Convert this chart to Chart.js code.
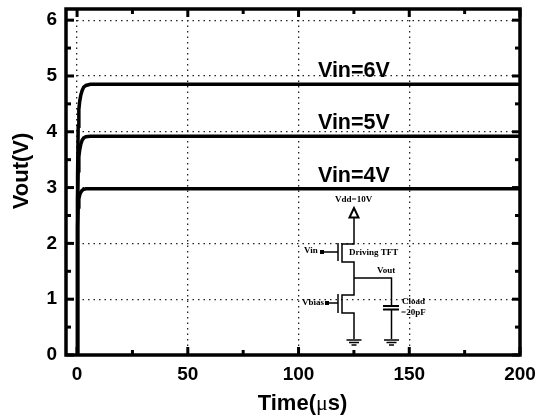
<!DOCTYPE html>
<html>
<head>
<meta charset="utf-8">
<style>
  html, body { margin: 0; padding: 0; background: #fff; }
  canvas { display: block; }
</style>
<script src="https://cdn.jsdelivr.net/npm/chart.js@4"></script>
</head>
<body>
<canvas id="chart" width="537" height="417"></canvas>
<script>
// values
const timeUs = [0, 0.15, 0.3, 0.5, 0.8, 1.2, 1.7, 2.3, 3, 4, 6, 50, 100, 150, 200];
const vin6 = [0, 2.0, 3.2, 4.1, 4.4, 4.55, 4.66, 4.74, 4.8, 4.83, 4.85, 4.85, 4.85, 4.85, 4.85];
const vin5 = [0, 1.7, 2.8, 3.3, 3.55, 3.68, 3.78, 3.85, 3.89, 3.91, 3.92, 3.92, 3.92, 3.92, 3.92];
const vin4 = [0, 1.4, 2.3, 2.65, 2.8, 2.87, 2.92, 2.95, 2.97, 2.98, 2.98, 2.98, 2.98, 2.98, 2.98];

const xTicks = [0, 50, 100, 150, 200];
const yTicks = [0, 1, 2, 3, 4, 5, 6];
const xMinorTicks = [25, 75, 125, 175];
const yMinorTicks = [0.5, 1.5, 2.5, 3.5, 4.5, 5.5];

const seriesLabels = ["Vin=6V", "Vin=5V", "Vin=4V"];
const seriesValues = [vin6, vin5, vin4];

function toPoints(values) {
  return values.map((v, i) => ({ x: timeUs[i], y: v }));
}

// chart.js reserves room for the edge labels, the original does not
function noLabelPadding(s) {
  s.paddingTop = s.paddingBottom = s.paddingLeft = s.paddingRight = 0;
}

// frame and inward ticks on all four sides
const framePlugin = {
  id: "frame",
  afterDatasetsDraw(chart) {
    const { ctx, chartArea: a, scales: { x, y } } = chart;
    ctx.save();
    ctx.strokeStyle = "#000";
    ctx.lineCap = "butt";
    ctx.lineWidth = 3;
    xTicks.forEach(v => {
      const p = x.getPixelForValue(v);
      line(ctx, p, a.top, p, a.top + 8);
      line(ctx, p, a.bottom, p, a.bottom - 8);
    });
    yTicks.forEach(v => {
      const p = y.getPixelForValue(v);
      line(ctx, a.left, p, a.left + 8, p);
      line(ctx, a.right, p, a.right - 8, p);
    });
    xMinorTicks.forEach(v => {
      const p = x.getPixelForValue(v);
      line(ctx, p, a.top, p, a.top + 5);
      line(ctx, p, a.bottom, p, a.bottom - 5);
    });
    yMinorTicks.forEach(v => {
      const p = y.getPixelForValue(v);
      line(ctx, a.left, p, a.left + 5, p);
      line(ctx, a.right, p, a.right - 5, p);
    });
    ctx.lineWidth = 3.5;
    ctx.strokeRect(a.left, a.top, a.right - a.left, a.bottom - a.top);
    ctx.restore();
  }
};

function line(ctx, x1, y1, x2, y2) {
  ctx.beginPath();
  ctx.moveTo(x1, y1);
  ctx.lineTo(x2, y2);
  ctx.stroke();
}

// curve labels and axis titles, the titles sit off centre in the original
const textPlugin = {
  id: "texts",
  afterDatasetsDraw(chart) {
    const { ctx, scales: { x, y } } = chart;
    ctx.save();
    ctx.fillStyle = "#000";
    ctx.font = "bold 21.5px 'Liberation Sans'";
    ctx.textAlign = "center";
    ctx.textBaseline = "alphabetic";
    seriesValues.forEach((vals, i) => {
      ctx.fillText(seriesLabels[i], x.getPixelForValue(125), y.getPixelForValue(vals[vals.length - 1]) - 7);
    });

    // Vout(V)
    ctx.save();
    ctx.translate(28, 171);
    ctx.rotate(-Math.PI / 2);
    ctx.font = "bold 22px 'Liberation Sans'";
    ctx.fillText("Vout(V)", 0, 0);
    ctx.restore();

    // Time(µs), the µ is a lighter serif glyph
    const bold = "bold 22px 'Liberation Sans'";
    const mu = "22px 'Liberation Serif'";
    ctx.textAlign = "left";
    ctx.font = bold;
    const w1 = ctx.measureText("Time(").width;
    const w3 = ctx.measureText("s)").width;
    ctx.font = mu;
    const w2 = ctx.measureText("μ").width;
    const startX = 302.5 - (w1 + w2 + w3) / 2;
    ctx.font = bold;
    ctx.fillText("Time(", startX, 410);
    ctx.font = mu;
    ctx.fillText("μ", startX + w1, 410);
    ctx.font = bold;
    ctx.fillText("s)", startX + w1 + w2, 410);
    ctx.restore();
  }
};

// circuit inset, this is a drawing and not data
const circuitPlugin = {
  id: "circuit",
  afterDatasetsDraw(chart) {
    const { ctx } = chart;
    ctx.save();
    ctx.strokeStyle = "#000";
    ctx.fillStyle = "#000";
    ctx.lineWidth = 1.5;

    // Vdd arrow
    ctx.beginPath();
    ctx.moveTo(354, 208);
    ctx.lineTo(349.5, 217.5);
    ctx.lineTo(358.5, 217.5);
    ctx.closePath();
    ctx.lineWidth = 2;
    ctx.stroke();
    ctx.lineWidth = 1.5;

    // driving TFT
    poly(ctx, [[354, 218], [354, 244], [342, 244], [342, 262], [354, 262], [354, 295], [342, 295], [342, 313], [354, 313], [354, 339]]);
    poly(ctx, [[338, 243], [338, 261]]);
    poly(ctx, [[322, 252], [338, 252]]);
    ctx.fillRect(320, 250, 4, 4);

    // bias TFT
    poly(ctx, [[338, 294], [338, 313]]);
    poly(ctx, [[327, 303], [338, 303]]);
    ctx.fillRect(325, 301, 4, 4);

    // output and load cap
    poly(ctx, [[354, 278], [391.5, 278], [391.5, 306]]);
    poly(ctx, [[391.5, 309], [391.5, 339]]);
    ctx.lineWidth = 2;
    poly(ctx, [[383, 306], [399, 306]]);
    poly(ctx, [[383, 309.5], [399, 309.5]]);

    ground(ctx, 354, 340);
    ground(ctx, 391.5, 340);

    ctx.font = "bold 9px 'Liberation Serif'";
    ctx.textBaseline = "middle";
    ctx.textAlign = "left";
    ctx.fillText("Vdd=10V", 335, 200);
    ctx.fillText("Vin", 304, 251);
    ctx.fillText("Driving TFT", 349, 253);
    ctx.fillText("Vout", 377, 271);
    ctx.fillText("Vbias", 302, 303);
    ctx.fillText("Cload", 402, 302);
    ctx.fillText("=20pF", 401, 313);
    ctx.restore();
  }
};

function poly(ctx, pts) {
  ctx.beginPath();
  pts.forEach((p, i) => i ? ctx.lineTo(p[0], p[1]) : ctx.moveTo(p[0], p[1]));
  ctx.stroke();
}

function ground(ctx, x, y) {
  ctx.lineWidth = 1.5;
  poly(ctx, [[x - 7.5, y], [x + 7.5, y]]);
  poly(ctx, [[x - 5, y + 2.5], [x + 5, y + 2.5]]);
  poly(ctx, [[x - 2.5, y + 5], [x + 2.5, y + 5]]);
}

const ctx = document.getElementById("chart").getContext("2d");
new Chart(ctx, {
  type: "scatter",
  data: {
    datasets: seriesValues.map((vals, i) => ({
      label: seriesLabels[i],
      data: toPoints(vals),
      showLine: true,
      borderColor: "#000",
      borderWidth: 3.5,
      pointRadius: 0,
      tension: 0,
      fill: false
    }))
  },
  plugins: [framePlugin, textPlugin, circuitPlugin],
  options: {
    responsive: false,
    animation: false,
    layout: { padding: { left: 0, right: 17, top: 9, bottom: 0 } },
    plugins: { legend: { display: false }, tooltip: { enabled: false } },
    scales: {
      x: {
        type: "linear",
        min: -5,
        max: 200,
        afterBuildTicks: s => { s.ticks = xTicks.map(v => ({ value: v })); },
        afterFit: s => { s.height = 62; noLabelPadding(s); },
        grid: { color: "#222", lineWidth: 1.3, drawTicks: false },
        border: { display: false, dash: [1.5, 4] },
        ticks: { color: "#000", padding: 8, maxRotation: 0, font: { family: "'Liberation Sans'", weight: "bold", size: 19 } }
      },
      y: {
        min: 0,
        max: 6.2,
        afterBuildTicks: s => { s.ticks = yTicks.map(v => ({ value: v })); },
        afterFit: s => { s.width = 66; noLabelPadding(s); },
        grid: { color: "#222", lineWidth: 1.3, drawTicks: false },
        border: { display: false, dash: [1.5, 4] },
        ticks: { color: "#000", padding: 9, font: { family: "'Liberation Sans'", weight: "bold", size: 19 } }
      }
    }
  }
});
</script>
</body>
</html>
